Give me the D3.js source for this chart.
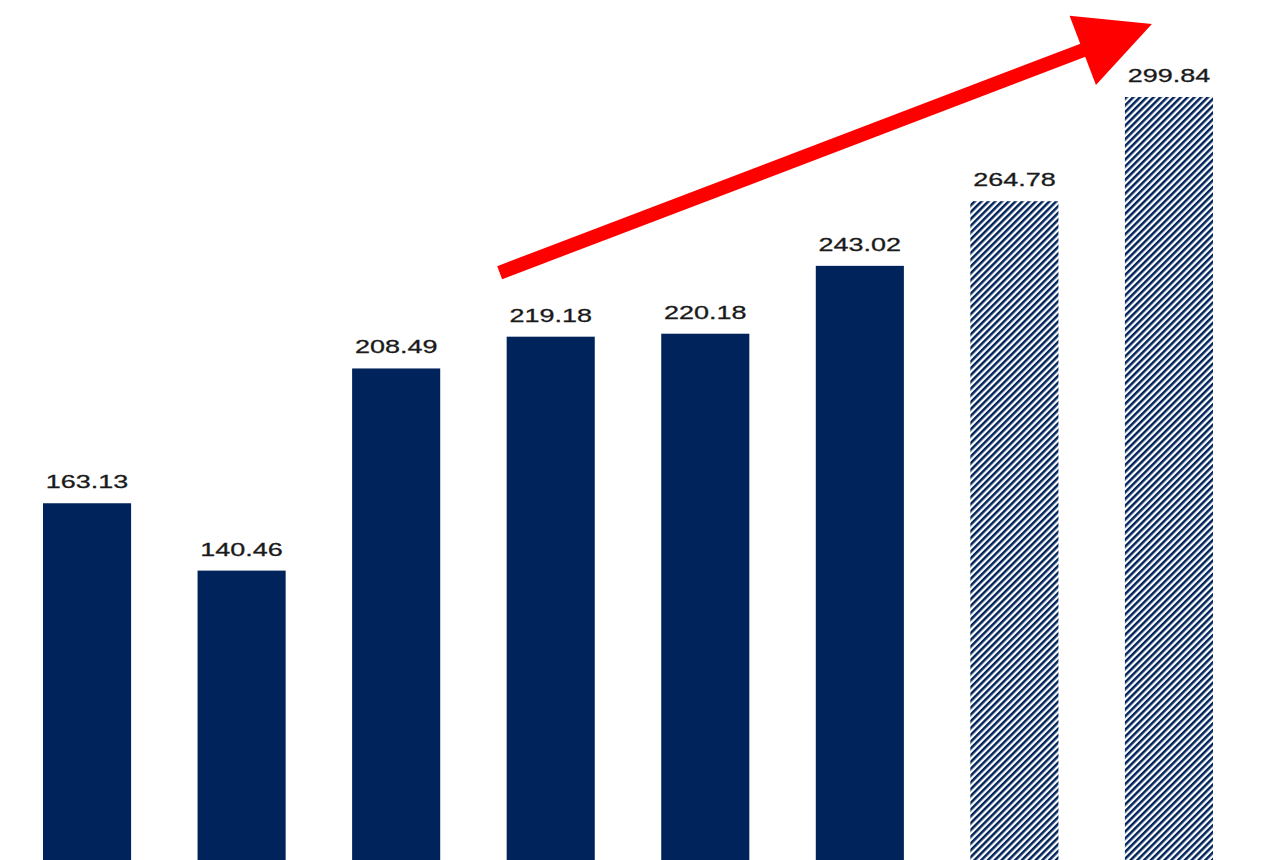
<!DOCTYPE html>
<html>
<head>
<meta charset="utf-8">
<script src="https://cdn.jsdelivr.net/npm/d3@7"></script>
<style>
  html, body { margin: 0; padding: 0; background: #fff; overflow: hidden; }
</style>
</head>
<body>
<svg id="chart"></svg>
<script>
const categories = ['1', '2', '3', '4', '5', '6', '7', '8'];
const values = [163.13, 140.46, 208.49, 219.18, 220.18, 243.02, 264.78, 299.84];
const forecast = [false, false, false, false, false, false, true, true];

const width = 1273, height = 860;
const navy = '#00235b';

const svg = d3.select('#chart')
  .attr('width', width)
  .attr('height', height);

// hatch pattern for the forecast bars
const defs = svg.append('defs');
defs.append('pattern')
  .attr('id', 'hatch')
  .attr('patternUnits', 'userSpaceOnUse')
  .attr('width', 4.8)
  .attr('height', 4.8)
  .attr('patternTransform', 'rotate(45)')
  .call(p => {
    p.append('rect').attr('width', 4.8).attr('height', 4.8).attr('fill', '#fff');
    p.append('rect').attr('width', 2.5).attr('height', 4.8).attr('fill', navy);
  });

const x = d3.scaleBand()
  .domain(categories)
  .range([43, 1213])
  .paddingInner(0.43)
  .paddingOuter(0);

// baseline sits below the visible area
const y = d3.scaleLinear()
  .domain([0, 299.84])
  .range([988, 97]);

svg.selectAll('rect.bar')
  .data(values)
  .enter()
  .append('rect')
  .attr('class', 'bar')
  .attr('x', (d, i) => x(categories[i]))
  .attr('y', d => y(d))
  .attr('width', x.bandwidth())
  .attr('height', d => y(0) - y(d))
  .attr('fill', (d, i) => forecast[i] ? 'url(#hatch)' : navy);

// labels are stretched wide in the source picture
svg.selectAll('text.label')
  .data(values)
  .enter()
  .append('text')
  .attr('class', 'label')
  .attr('transform', (d, i) =>
    `translate(${x(categories[i]) + x.bandwidth() / 2},${y(d) - 15}) scale(1.42,1)`)
  .attr('text-anchor', 'middle')
  .attr('font-family', 'Liberation Sans, Arial, sans-serif')
  .attr('font-size', 19)
  .attr('fill', '#1a1a1a')
  .attr('stroke', '#1a1a1a')
  .attr('stroke-width', 0.3)
  .text(d => d.toFixed(2));

// trend arrow from bar 4 up past the last bar
const x0 = x(categories[3]) - 7, y0 = y(values[3]) - 64;
const x1 = x(categories[7]) + 27, y1 = 24;
const ang = Math.atan2(y1 - y0, x1 - x0);
const headLen = 74, headW = 74;
const bx = x1 - headLen * Math.cos(ang), by = y1 - headLen * Math.sin(ang);
const nx = -Math.sin(ang), ny = Math.cos(ang);

svg.append('line')
  .attr('x1', x0).attr('y1', y0)
  .attr('x2', bx + 10 * Math.cos(ang)).attr('y2', by + 10 * Math.sin(ang))
  .attr('stroke', '#ff0000')
  .attr('stroke-width', 14);

svg.append('path')
  .attr('d', d3.line()([
    [x1, y1],
    [bx + nx * headW / 2, by + ny * headW / 2],
    [bx - nx * headW / 2, by - ny * headW / 2]
  ]) + 'Z')
  .attr('fill', '#ff0000');
</script>
</body>
</html>
